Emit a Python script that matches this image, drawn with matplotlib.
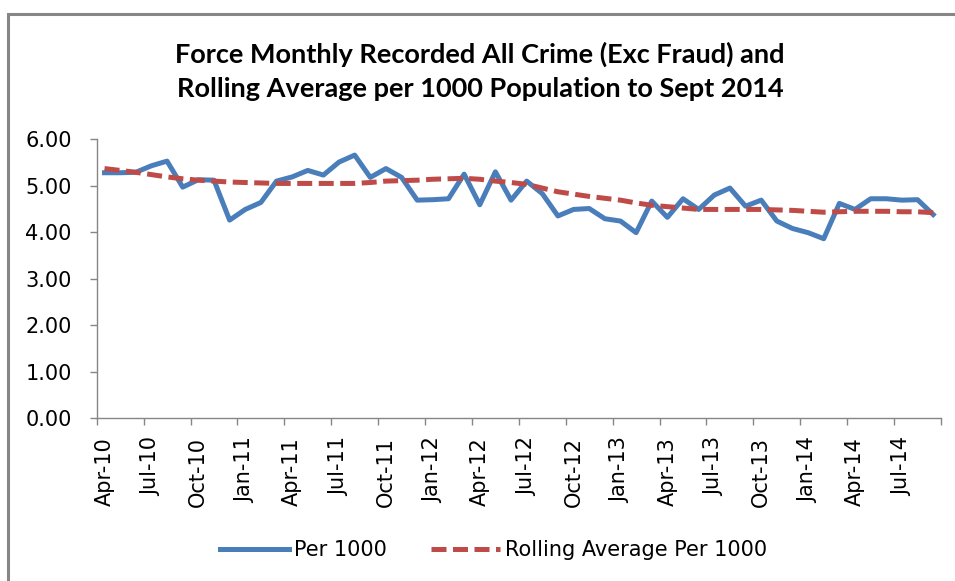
import matplotlib
matplotlib.use("Agg")
import matplotlib.pyplot as plt
from matplotlib.patches import Rectangle
from matplotlib.ticker import FixedLocator, FormatStrFormatter

# ---- data ----
month_labels = [f"{m}-{y}" for y in range(10, 15) for m in
                ["Jan", "Feb", "Mar", "Apr", "May", "Jun", "Jul", "Aug", "Sep", "Oct", "Nov", "Dec"]]
month_labels = month_labels[3:3 + 54]  # Apr-10 .. Sep-14

per_1000 = [5.28, 5.28, 5.29, 5.43, 5.53, 4.97, 5.13, 5.12, 4.26, 4.49,
            4.64, 5.10, 5.19, 5.33, 5.23, 5.51, 5.66, 5.18, 5.37, 5.18,
            4.69, 4.70, 4.72, 5.25, 4.59, 5.30, 4.69, 5.10, 4.83, 4.35,
            4.49, 4.51, 4.29, 4.24, 3.99, 4.67, 4.32, 4.72, 4.49, 4.80,
            4.95, 4.56, 4.69, 4.24, 4.08, 3.99, 3.86, 4.62, 4.49, 4.72,
            4.72, 4.69, 4.70, 4.38]

rolling_avg = [5.37, 5.33, 5.29, 5.24, 5.19, 5.15, 5.12, 5.10, 5.08, 5.07,
               5.06, 5.05, 5.05, 5.05, 5.05, 5.05, 5.05, 5.07, 5.10, 5.11,
               5.12, 5.14, 5.15, 5.16, 5.14, 5.10, 5.07, 5.03, 4.95, 4.87,
               4.82, 4.77, 4.73, 4.69, 4.63, 4.58, 4.55, 4.52, 4.49, 4.49,
               4.49, 4.49, 4.49, 4.48, 4.47, 4.45, 4.43, 4.44, 4.45, 4.45,
               4.45, 4.44, 4.44, 4.42]

series_names = ["Per 1000", "Rolling Average Per 1000"]
title_lines = ["Force Monthly Recorded All Crime (Exc Fraud) and",
               "Rolling Average per 1000 Population to Sept 2014"]
y_ticks = [0, 1, 2, 3, 4, 5, 6]

# ---- styling ----
W, H = 955, 581
BLUE = "#4A7EBB"
RED = "#BE4B48"
GRAY = "#868686"

fig = plt.figure(figsize=(W / 100, H / 100), dpi=100)
fig.patch.set_facecolor("white")

# outer chart border (cut at right and bottom like the reference)
fig.patches.append(Rectangle((8 / W, -0.2), 1.3, 1.2 - 13.5 / H,
                             transform=fig.transFigure, fill=False,
                             edgecolor=GRAY, linewidth=2.2, zorder=0))

ax_left, ax_right = 96.7, 941
ax_top, ax_bottom = 139.3, 418
ax = fig.add_axes([ax_left / W, 1 - ax_bottom / H,
                   (ax_right - ax_left) / W, (ax_bottom - ax_top) / H])

x = list(range(len(month_labels)))
ax.plot(x, per_1000, color=BLUE, linewidth=3.6, solid_joinstyle="round",
        label=series_names[0], zorder=2)
ax.plot(x, rolling_avg, color=RED, linewidth=3.6, linestyle=(0, (3.0, 1.3)),
        dash_capstyle="butt", label=series_names[1], zorder=3)

ax.set_xlim(-0.5, len(month_labels) - 0.5)
ax.set_ylim(0, 6)

# y axis
ax.yaxis.set_major_locator(FixedLocator(y_ticks))
ax.yaxis.set_major_formatter(FormatStrFormatter("%.2f"))
ax.tick_params(axis="y", direction="out", length=5, width=1, color=GRAY,
               pad=13, labelsize=15, labelcolor="black")

# x axis: labels every 3 months, ticks at group boundaries
ax.set_xticks(x[::3])
ax.set_xticklabels(month_labels[::3], rotation=90, fontsize=15)
ax.set_xticks([i - 0.5 for i in range(0, len(month_labels) + 1, 3)], minor=True)
ax.tick_params(axis="x", which="major", length=0, pad=14)
ax.tick_params(axis="x", which="minor", direction="out", length=5, width=1, color=GRAY)

for s in ["top", "right"]:
    ax.spines[s].set_visible(False)
for s in ["left", "bottom"]:
    ax.spines[s].set_color(GRAY)
    ax.spines[s].set_linewidth(1)

# title
fig.text(480 / W, 1 - 54 / H, title_lines[0], ha="center", va="center",
         fontsize=19.5, fontweight="bold", family=["Lato", "DejaVu Sans"])
fig.text(480 / W, 1 - 89 / H, title_lines[1], ha="center", va="center",
         fontsize=19.5, fontweight="bold", family=["Lato", "DejaVu Sans"])

# legend
fig.legend(loc="center", bbox_to_anchor=(493.5 / W, 1 - 550 / H), ncol=2,
           frameon=False, fontsize=15, handlelength=3.3, handletextpad=0.25,
           columnspacing=2.1)

fig.savefig("out.png", dpi=100, facecolor="white")
